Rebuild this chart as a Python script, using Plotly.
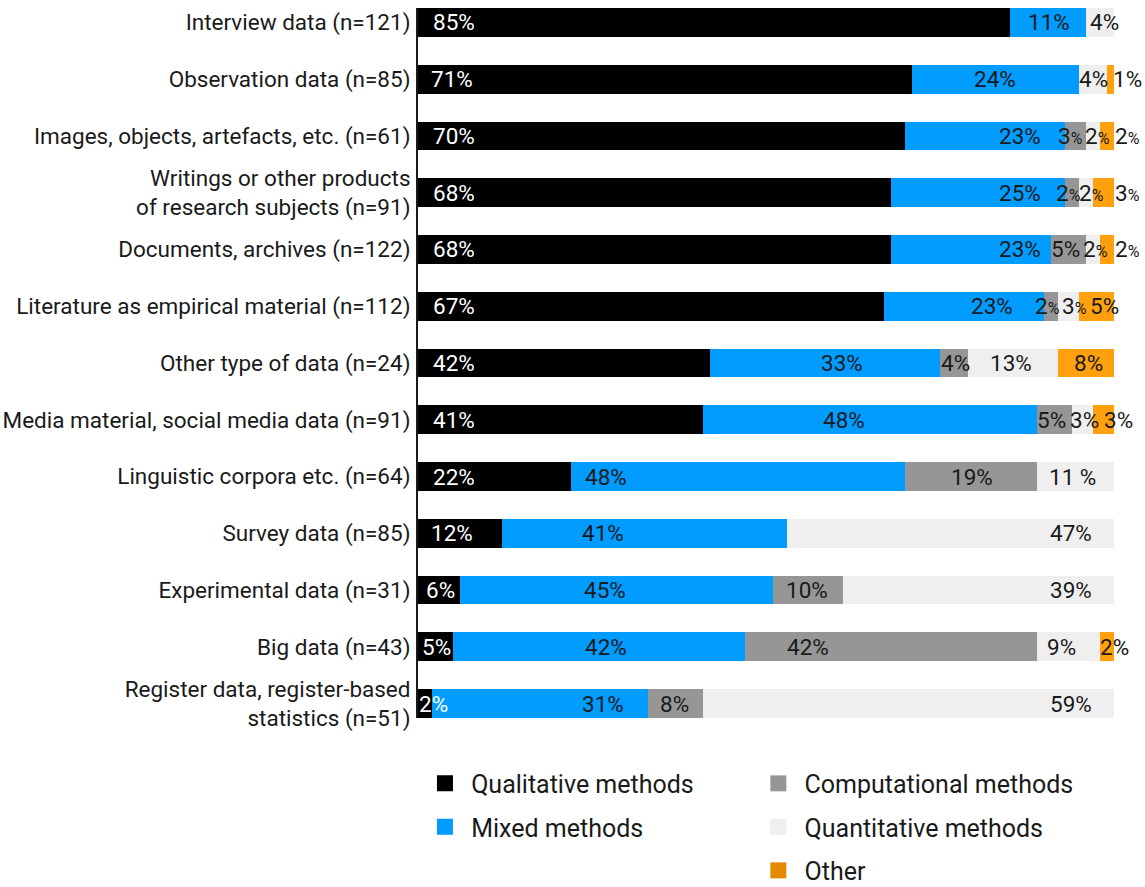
import plotly.graph_objects as go

# Share of research approaches by type of data (percent of respondents)
categories = [
    "Interview data (n=121)",
    "Observation data (n=85)",
    "Images, objects, artefacts, etc. (n=61)",
    "Writings or other products<br>of research subjects (n=91)",
    "Documents, archives (n=122)",
    "Literature as empirical material (n=112)",
    "Other type of data (n=24)",
    "Media material, social media data (n=91)",
    "Linguistic corpora etc. (n=64)",
    "Survey data (n=85)",
    "Experimental data (n=31)",
    "Big data (n=43)",
    "Register data, register-based<br>statistics (n=51)",
]

qualitative = [85, 71, 70, 68, 68, 67, 42, 41, 22, 12, 6, 5, 2]
mixed = [11, 24, 23, 25, 23, 23, 33, 48, 48, 41, 45, 42, 31]
computational = [0, 0, 3, 2, 5, 2, 4, 5, 19, 0, 10, 42, 8]
quantitative = [4, 4, 2, 2, 2, 3, 13, 3, 11, 47, 39, 9, 59]
other = [0, 1, 2, 3, 2, 5, 8, 3, 0, 0, 0, 2, 0]

series_names = ["Qualitative methods", "Mixed methods", "Computational methods",
                "Quantitative methods", "Other"]
series_values = [qualitative, mixed, computational, quantitative, other]
series_colors = ["#000000", "#009cff", "#969696", "#efefef", "#ffa00f"]
legend_colors = ["#000000", "#009cff", "#969696", "#efefef", "#e68a00"]
label_colors = ["#ffffff", "#1a1a1a", "#1a1a1a", "#1a1a1a", "#1a1a1a"]

# Horizontal centre of each value label, in percent along the bar
qual_label_x = [5.2, 4.9, 5.2, 5.2, 5.2, 5.2, 5.2, 5.2, 5.2, 4.9, 3.2, 2.7, 2.2]
mixed_label_x = [90.7, 82.9, 86.5, 86.5, 86.5, 82.5, 60.9, 61.2, 27.0, 26.6, 26.9, 27.0, 26.6]
comp_label_x = [None, None, 93.8, 93.5, 93.0, 90.5, 77.2, 91.0, 79.6, None, 55.9, 56.0, 36.9]
quant_label_x = [98.6, 97.1, 97.6, 96.8, 97.3, 94.3, 85.2, 95.8, 94.0, 93.8, 93.8, 92.4, 93.8]
other_label_x = [None, 102.0, 102.0, 102.0, 102.0, 98.7, 96.3, 100.6, None, None, None, 100.1, None]
label_x = [qual_label_x, mixed_label_x, comp_label_x, quant_label_x, other_label_x]

# Labels in narrow segments use a smaller percent sign: (row, series)
small_pct = {(2, 2), (2, 3), (2, 4), (3, 2), (3, 3), (3, 4), (4, 3), (4, 4), (5, 2), (5, 3)}
spaced_pct = {(8, 3)}

FONT = "Roboto, 'Open Sans', sans-serif"
TEXT = "#1a1a1a"
NBSP = "\u00a0"

fig = go.Figure()

for name, vals, color in zip(series_names, series_values, series_colors):
    fig.add_trace(go.Bar(
        y=categories, x=vals, name=name, orientation="h",
        marker=dict(color=color, line=dict(width=0)),
        showlegend=False, hoverinfo="x+y",
    ))

# Legend entries as square markers in two columns
for i, (name, color) in enumerate(zip(series_names, legend_colors)):
    fig.add_trace(go.Scatter(
        x=[None], y=[None], mode="markers", name=NBSP + name,
        marker=dict(symbol="square", size=17, color=color),
        legend="legend" if i < 2 else "legend2",
        legendgroup=name,
    ))

# Value labels; the x axis spans 0-100 across the plot area, so a percent
# position maps to the plot-area fraction pct / 100 (labels may overhang the bar end)
annotations = []
for s, vals in enumerate(series_values):
    for r, v in enumerate(vals):
        if v == 0 or label_x[s][r] is None:
            continue
        if (r, s) in small_pct:
            txt = f"{v}<span style='font-size:16px'>%</span>"
        elif (r, s) in spaced_pct:
            txt = f"{v} %"
        else:
            txt = f"{v}%"
        annotations.append(dict(
            x=label_x[s][r] / 100, y=categories[r], xref="paper", yref="y",
            text=txt, showarrow=False, xanchor="center", yanchor="middle",
            font=dict(family=FONT, size=22.5, color=label_colors[s]),
        ))

fig.update_layout(
    barmode="stack",
    bargap=0.49,
    width=1145, height=887,
    margin=dict(l=418, r=31, t=8, b=169, autoexpand=False),
    paper_bgcolor="white", plot_bgcolor="white",
    font=dict(family=FONT, size=22.5, color=TEXT),
    annotations=annotations,
    legend=dict(x=0.01, y=-0.060, xanchor="left", yanchor="top",
                font=dict(family=FONT, size=25, color=TEXT),
                itemsizing="trace", tracegroupgap=8, bgcolor="rgba(0,0,0,0)"),
    legend2=dict(x=0.489, y=-0.060, xanchor="left", yanchor="top",
                 font=dict(family=FONT, size=25, color=TEXT),
                 itemsizing="trace", tracegroupgap=8, bgcolor="rgba(0,0,0,0)"),
)

fig.update_xaxes(range=[0, 100], visible=False, fixedrange=True)
fig.update_yaxes(
    type="category", range=[12.255, -0.255], autorange=False,
    showline=True, linecolor="#1a1a1a", linewidth=2,
    showgrid=False, zeroline=False, ticks="", ticklabelstandoff=1,
    tickfont=dict(family=FONT, size=22.5, color=TEXT),
)

fig.write_html("out.html")
